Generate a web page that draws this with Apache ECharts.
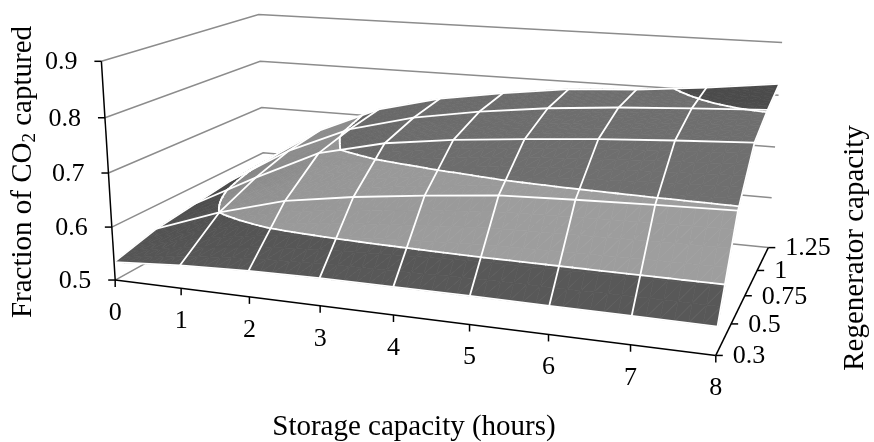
<!DOCTYPE html>
<html lang="en">
<head>
  <meta charset="UTF-8" />
  <title>Fraction of CO2 captured</title>
  <script src="https://cdn.jsdelivr.net/npm/echarts@6/dist/echarts.min.js"></script>
  <style>
    html, body {
      margin: 0;
      padding: 0;
      background: #fff;
    }
    #chart {
      width: 874px;
      height: 442px;
    }
  </style>
</head>
<body>
  <div id="chart"></div>

  <script>
    // storage capacity (hours), front axis
    const storageHours = [0, 1, 2, 3, 4, 5, 6, 7, 8];
    // regenerator capacity, front to back
    const regenCapacity = ['0.3', '0.5', '0.75', '1', '1.25'];
    // vertical axis ticks
    const fractionTicks = [0.5, 0.6, 0.7, 0.8, 0.9];

    // fraction of CO2 captured, one row per regenerator capacity
    const capturedRegen030 = [0.534, 0.543, 0.548, 0.550, 0.550, 0.550, 0.549, 0.549, 0.548];
    const capturedRegen050 = [0.555, 0.600, 0.635, 0.655, 0.670, 0.683, 0.688, 0.692, 0.695];
    const capturedRegen075 = [0.565, 0.630, 0.690, 0.720, 0.737, 0.749, 0.760, 0.768, 0.775];
    const capturedRegen100 = [0.575, 0.650, 0.705, 0.738, 0.760, 0.776, 0.787, 0.795, 0.802];
    const capturedRegen125 = [0.580, 0.660, 0.715, 0.747, 0.768, 0.785, 0.793, 0.806, 0.822];
    const capturedRows = [capturedRegen030, capturedRegen050, capturedRegen075, capturedRegen100, capturedRegen125];

    // one fill per 0.1 band (grey levels)
    const bandGrey = [88, 158, 112, 77];
    const font = '"Liberation Serif", "Times New Roman", serif';

    // where the box corners sit in the (hidden) plane: [u, v, w, x, y]
    const frameAnchors = [
      [0, 0, 0, 115, 280], [0, 0, 1, 101.7, 61.7], [0, 0, 0.5, 108.4, 172.7],
      [1, 0, 0, 716.7, 355], [0.5, 0, 0, 393, 314.7],
      [0, 1, 0, 265, 198], [0, 1, 1, 258.3, 14], [0, 1, 0.5, 261.7, 107.3],
      [1, 1, 0, 768, 246.5], [1, 1, 1, 781.7, 42.7], [1, 1, 0.5, 776, 147.3],
      [1, 0.5, 0, 744, 297]
    ];

    // least squares fit of a 3x4 projective matrix (last entry = 1)
    function fitProjection(points) {
      const n = 11;
      const M = Array.from({ length: n }, () => new Array(n + 1).fill(0));
      function addRow(row, rhs) {
        for (let i = 0; i < n; i++) {
          for (let j = 0; j < n; j++) M[i][j] += row[i] * row[j];
          M[i][n] += row[i] * rhs;
        }
      }
      points.forEach(([u, v, w, X, Y]) => {
        addRow([u, v, w, 1, 0, 0, 0, 0, -X * u, -X * v, -X * w], X);
        addRow([0, 0, 0, 0, u, v, w, 1, -Y * u, -Y * v, -Y * w], Y);
      });
      for (let c = 0; c < n; c++) {
        let p = c;
        for (let r = c + 1; r < n; r++) if (Math.abs(M[r][c]) > Math.abs(M[p][c])) p = r;
        [M[c], M[p]] = [M[p], M[c]];
        for (let r = 0; r < n; r++) {
          if (r === c) continue;
          const f = M[r][c] / M[c][c];
          for (let k = c; k <= n; k++) M[r][k] -= f * M[c][k];
        }
      }
      return M.map((row, i) => row[n] / row[i]);
    }

    const P = fitProjection(frameAnchors);
    const nS = storageHours.length - 1;
    const nR = regenCapacity.length - 1;
    const zMin = fractionTicks[0];
    const zSpan = fractionTicks[fractionTicks.length - 1] - zMin;

    // data units (storage index, regen index, fraction) -> plane + depth
    function project(s, r, val) {
      const u = s / nS, v = r / nR, w = (val - zMin) / zSpan;
      const W = P[8] * u + P[9] * v + P[10] * w + 1;
      return {
        x: (P[0] * u + P[1] * v + P[2] * w + P[3]) / W,
        y: (P[4] * u + P[5] * v + P[6] * w + P[7]) / W,
        depth: W
      };
    }

    function valueAt(s, r) {
      const i = Math.min(Math.floor(s), nS - 1), j = Math.min(Math.floor(r), nR - 1);
      const a = s - i, b = r - j;
      const z00 = capturedRows[j][i], z10 = capturedRows[j][i + 1];
      const z01 = capturedRows[j + 1][i], z11 = capturedRows[j + 1][i + 1];
      return (1 - a) * (1 - b) * z00 + a * (1 - b) * z10 + (1 - a) * b * z01 + a * b * z11;
    }

    // slope along storage, used for a little light from the right
    function slopeAt(s, r) {
      const i = Math.min(Math.floor(s), nS - 1), j = Math.min(Math.floor(r), nR - 1);
      const b = r - j;
      return (1 - b) * (capturedRows[j][i + 1] - capturedRows[j][i]) +
        b * (capturedRows[j + 1][i + 1] - capturedRows[j + 1][i]);
    }

    function grey(level, factor) {
      const g = Math.round(Math.max(0, Math.min(255, level * factor)));
      return 'rgb(' + g + ',' + g + ',' + g + ')';
    }

    function clipLevel(poly, level, keepAbove) {
      const out = [];
      for (let k = 0; k < poly.length; k++) {
        const a = poly[k], b = poly[(k + 1) % poly.length];
        const da = keepAbove ? a[2] - level : level - a[2];
        const db = keepAbove ? b[2] - level : level - b[2];
        if (da >= 0) out.push(a);
        if ((da >= 0) !== (db >= 0)) {
          const t = da / (da - db);
          out.push([a[0] + t * (b[0] - a[0]), a[1] + t * (b[1] - a[1]), level]);
        }
      }
      return out;
    }

    function renderSurface(params, api) {
      const pt = (s, r, val) => {
        const p = project(s, r, val);
        return api.coord([p.x, p.y]);
      };
      const children = [];
      const wallStyle = { stroke: '#8c8c8c', lineWidth: 1.5, fill: null };
      const axisStyle = { stroke: '#000', lineWidth: 1.5, fill: null };
      const labelStyle = { fontSize: 26, fontFamily: font, fill: '#000', verticalAlign: 'middle' };

      // wall gridlines: left wall then back wall
      fractionTicks.forEach(t => {
        children.push({
          type: 'polyline',
          shape: { points: [pt(0, 0, t), pt(0, nR, t), pt(nS, nR, t)] },
          style: wallStyle
        });
      });

      // cells, far ones first
      const sub = 6;
      const cells = [];
      for (let i = 0; i < nS; i++) {
        for (let j = 0; j < nR; j++) {
          cells.push({ i, j, depth: project(i + 0.5, j + 0.5, valueAt(i + 0.5, j + 0.5)).depth });
        }
      }
      cells.sort((a, b) => b.depth - a.depth);

      const contourLevels = fractionTicks.slice(1, -1);
      const lines = [];
      cells.forEach(({ i, j }) => {
        for (let a = 0; a < sub; a++) {
          for (let b = 0; b < sub; b++) {
            const s0 = i + a / sub, s1 = i + (a + 1) / sub;
            const r0 = j + b / sub, r1 = j + (b + 1) / sub;
            const q00 = [s0, r0, valueAt(s0, r0)], q10 = [s1, r0, valueAt(s1, r0)];
            const q01 = [s0, r1, valueAt(s0, r1)], q11 = [s1, r1, valueAt(s1, r1)];
            const shade = 1 - 2 * Math.max(0, slopeAt((s0 + s1) / 2, (r0 + r1) / 2));
            [[q00, q10, q11], [q00, q11, q01]].forEach(tri => {
              for (let k = 0; k < bandGrey.length; k++) {
                let poly = clipLevel(tri, fractionTicks[k], true);
                if (poly.length < 3) continue;
                poly = clipLevel(poly, fractionTicks[k + 1], false);
                if (poly.length < 3) continue;
                const c = grey(bandGrey[k], shade);
                children.push({
                  type: 'polygon',
                  shape: { points: poly.map(p => pt(p[0], p[1], p[2])) },
                  style: { fill: c, stroke: c, lineWidth: 0.7 }
                });
              }
              contourLevels.forEach(L => {
                const hits = [];
                for (let e = 0; e < 3; e++) {
                  const p = tri[e], q = tri[(e + 1) % 3];
                  const dp = p[2] - L >= 0, dq = q[2] - L >= 0;
                  if (dp !== dq) {
                    const t = (L - p[2]) / (q[2] - p[2]);
                    hits.push(pt(p[0] + t * (q[0] - p[0]), p[1] + t * (q[1] - p[1]), L));
                  }
                }
                if (hits.length === 2) lines.push(hits);
              });
            });
          }
        }
      });

      const meshStyle = { stroke: '#fff', lineWidth: 1.8, fill: null, lineCap: 'round', lineJoin: 'round' };
      lines.forEach(seg => {
        children.push({
          type: 'line',
          shape: { x1: seg[0][0], y1: seg[0][1], x2: seg[1][0], y2: seg[1][1] },
          style: meshStyle
        });
      });
      capturedRows.forEach((row, j) => {
        children.push({
          type: 'polyline',
          shape: { points: row.map((val, i) => pt(i, j, val)) },
          style: meshStyle
        });
      });
      storageHours.forEach((h, i) => {
        children.push({
          type: 'polyline',
          shape: { points: capturedRows.map((row, j) => pt(i, j, row[i])) },
          style: meshStyle
        });
      });

      // vertical axis
      const z0 = pt(0, 0, zMin), z1 = pt(0, 0, zMin + zSpan);
      children.push({ type: 'line', shape: { x1: z0[0], y1: z0[1], x2: z1[0], y2: z1[1] }, style: axisStyle });
      fractionTicks.forEach(t => {
        const p = pt(0, 0, t);
        children.push({ type: 'line', shape: { x1: p[0] - 7, y1: p[1], x2: p[0], y2: p[1] }, style: axisStyle });
        children.push({
          type: 'text', x: p[0] - 24, y: p[1] + 1,
          style: Object.assign({ text: String(t), align: 'right' }, labelStyle)
        });
      });

      // storage axis
      const s8 = pt(nS, 0, zMin);
      children.push({ type: 'line', shape: { x1: z0[0], y1: z0[1], x2: s8[0], y2: s8[1] }, style: axisStyle });
      storageHours.forEach((h, i) => {
        const p = pt(i, 0, zMin);
        children.push({ type: 'line', shape: { x1: p[0], y1: p[1], x2: p[0], y2: p[1] + 7 }, style: axisStyle });
        children.push({
          type: 'text', x: p[0], y: p[1] + 33,
          style: Object.assign({ text: String(h), align: 'center' }, labelStyle)
        });
      });

      // regenerator axis
      const rb = pt(nS, nR, zMin);
      children.push({ type: 'line', shape: { x1: s8[0], y1: s8[1], x2: rb[0], y2: rb[1] }, style: axisStyle });
      regenCapacity.forEach((label, j) => {
        const p = pt(nS, j, zMin);
        children.push({ type: 'line', shape: { x1: p[0], y1: p[1], x2: p[0] + 7, y2: p[1] }, style: axisStyle });
        children.push({
          type: 'text', x: p[0] + 17, y: p[1] + 1,
          style: Object.assign({ text: label, align: 'left' }, labelStyle)
        });
      });

      return { type: 'group', children };
    }

    const myChart = echarts.init(document.getElementById('chart'));
    myChart.setOption({
      animation: false,
      grid: { left: 0, right: 0, top: 0, bottom: 0 },
      xAxis: { type: 'value', min: 0, max: 874, show: false },
      yAxis: { type: 'value', min: 0, max: 442, inverse: true, show: false },
      graphic: [
        {
          type: 'text', x: 23, y: 172, rotation: Math.PI / 2,
          style: {
            text: '{m|Fraction of CO}{s|2}{m| captured}',
            align: 'center', verticalAlign: 'middle', fill: '#000',
            rich: {
              m: { fontSize: 29, fontFamily: font, lineHeight: 34 },
              s: { fontSize: 19, fontFamily: font, lineHeight: 18, verticalAlign: 'bottom' }
            }
          }
        },
        {
          type: 'text', x: 414, y: 427,
          style: { text: 'Storage capacity (hours)', fontSize: 29, fontFamily: font, fill: '#000', align: 'center', verticalAlign: 'middle' }
        },
        {
          type: 'text', x: 855, y: 248, rotation: Math.PI / 2,
          style: { text: 'Regenerator capacity', fontSize: 29, fontFamily: font, fill: '#000', align: 'center', verticalAlign: 'middle' }
        }
      ],
      series: [{
        type: 'custom',
        coordinateSystem: 'cartesian2d',
        renderItem: renderSurface,
        data: [[0, 0]],
        silent: true
      }]
    });
  </script>
</body>
</html>
